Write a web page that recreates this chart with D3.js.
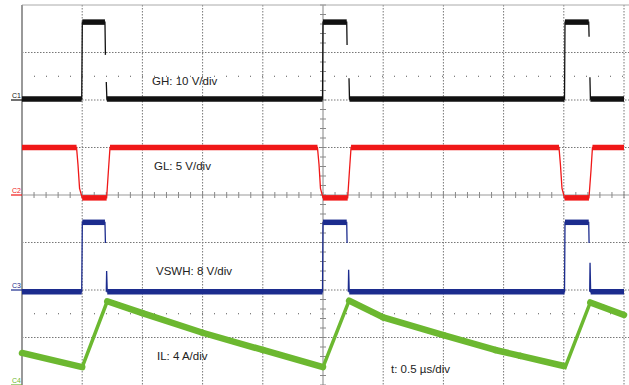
<!DOCTYPE html>
<html>
<head>
<meta charset="utf-8">
<script src="https://cdn.jsdelivr.net/npm/d3@7"></script>
<style>
  body { margin: 0; background: #fff; }
  text { font-family: "Liberation Sans", Arial, sans-serif; }
</style>
</head>
<body>
<div id="scope"></div>
<script>
const width = 629;
const height = 385;

// tiempo en µs, valores en V o A (null = hueco en la traza)
const ghData = [
  [-2.5, 0.2], [-2.004, 0.2], [-1.999, 16.4], [-1.811, 16.4], [-1.807, 9.5], null, [-1.800, 3.8], [-1.795, 0.2],
  [-0.004, 0.2], [0.0, 16.4], [0.197, 16.4], [0.200, 11.6], null, [0.216, 4.6], [0.220, 0.2],
  [2.006, 0.2], [2.010, 16.4], [2.207, 16.4], [2.210, 13.3], null, [2.217, 4.8], [2.221, 0.2], [2.5, 0.2]
];
const glData = [
  [-2.5, 5.0], [-2.047, 5.0], [-2.035, 3.2], [-2.022, 0.7], [-2.0, -0.3], [-1.797, -0.3], [-1.782, 2.6], [-1.769, 5.0],
  [-0.046, 5.0], [-0.033, 3.2], [-0.021, 0.7], [0.0, -0.3], [0.205, -0.3], [0.220, 2.6], [0.233, 5.0],
  [1.960, 5.0], [1.972, 3.2], [1.985, 0.7], [2.006, -0.3], [2.209, -0.3], [2.226, 2.6], [2.238, 5.0], [2.5, 5.0]
];
const vswData = [
  [-2.5, -0.3], [-2.004, -0.3], [-1.999, 11.4], [-1.811, 11.4], [-1.807, 7.9], null, [-1.800, -0.3], [-1.797, 3.2], [-1.792, -0.3],
  [-0.004, -0.3], [0.0, 11.4], [0.197, 11.4], [0.200, 7.9], null, [0.210, -0.3], [0.213, 3.4], [0.218, -0.3],
  [2.006, -0.3], [2.010, 11.4], [2.207, 11.4], [2.210, 7.9], null, [2.215, -0.3], [2.218, 4.6], [2.223, -0.3], [2.5, -0.3]
];
const ilData = [
  [-2.5, 2.7], [-2.0, 1.5], [-1.792, 7.05], [-1.5, 6.05], [-1.0, 4.4], [-0.5, 2.95],
  [0.0, 1.5], [0.217, 7.1], [0.5, 5.7], [1.0, 4.2], [1.43, 2.95], [1.64, 2.45],
  [2.0, 1.6], [2.012, 1.5], [2.22, 6.95], [2.5, 5.9]
];

const channelNames = ["C1", "C2", "C3", "C4"];
const channelScales = [10, 5, 8, 4];      // unidades por división
const channelOffsets = [2, 0, -2, -4];    // posición del cero en divisiones
const channelLabels = ["GH: 10 V/div", "GL: 5 V/div", "VSWH: 8 V/div", "IL: 4 A/div"];
const timeLabel = "t: 0.5 µs/div";

const colores = ["#111111", "#f01818", "#1c2c8e", "#6cb830"];

const svg = d3.select("#scope")
  .append("svg")
  .attr("width", width)
  .attr("height", height);

svg.append("rect")
  .attr("width", width)
  .attr("height", height)
  .attr("fill", "#fff");

const x = d3.scaleLinear().domain([-2.5, 2.5]).range([22, 624]);
const yDiv = d3.scaleLinear().domain([-4, 4]).range([385, 5]);

// === RETÍCULA ===
const grid = svg.append("g").attr("class", "reticula");

d3.range(-4, 6).filter(d => d !== 0 && d !== -5).forEach(d => {
  grid.append("line")
    .attr("x1", x(d * 0.5)).attr("x2", x(d * 0.5))
    .attr("y1", 5).attr("y2", height)
    .attr("stroke", "#777").attr("stroke-width", 1)
    .attr("stroke-dasharray", "1.5,1.5");
});
[-3, -2, -1, 1, 2, 3].forEach(d => {
  grid.append("line")
    .attr("x1", 22).attr("x2", width)
    .attr("y1", yDiv(d)).attr("y2", yDiv(d))
    .attr("stroke", "#777").attr("stroke-width", 1)
    .attr("stroke-dasharray", "1.5,1.5");
});
// líneas punteadas espaciadas
[2.5, -2.5].forEach(d => {
  grid.append("line")
    .attr("x1", 22).attr("x2", width)
    .attr("y1", yDiv(d)).attr("y2", yDiv(d))
    .attr("stroke", "#555").attr("stroke-width", 1)
    .attr("stroke-dasharray", "1,11");
});

// ejes centrales con marcas
grid.append("line")
  .attr("x1", x(0)).attr("x2", x(0)).attr("y1", 5).attr("y2", height)
  .attr("stroke", "#999").attr("stroke-width", 1.2);
grid.append("line")
  .attr("x1", 22).attr("x2", width).attr("y1", yDiv(0)).attr("y2", yDiv(0))
  .attr("stroke", "#999").attr("stroke-width", 1.2);
d3.range(-4, 4.01, 0.2).forEach(d => {
  grid.append("line")
    .attr("x1", x(0) - 3).attr("x2", x(0) + 3)
    .attr("y1", yDiv(d)).attr("y2", yDiv(d))
    .attr("stroke", "#888").attr("stroke-width", 1);
});
d3.range(-2.5, 2.51, 0.1).forEach(t => {
  grid.append("line")
    .attr("x1", x(t)).attr("x2", x(t))
    .attr("y1", yDiv(0) - 3).attr("y2", yDiv(0) + 3)
    .attr("stroke", "#888").attr("stroke-width", 1);
});

// bordes
grid.append("line")
  .attr("x1", 22).attr("x2", width).attr("y1", 5).attr("y2", 5)
  .attr("stroke", "#aaa").attr("stroke-width", 1);
grid.append("line")
  .attr("x1", 22).attr("x2", 22).attr("y1", 5).attr("y2", height)
  .attr("stroke", "#999").attr("stroke-width", 2);

// === TRAZAS ===
const datos = [ghData, glData, vswData, ilData];
const orden = [3, 2, 1, 0];
const trazas = svg.append("g").attr("class", "trazas");

orden.forEach(i => {
  const toY = v => yDiv(v / channelScales[i] + channelOffsets[i]);
  const linea = d3.line()
    .defined(d => d !== null)
    .x(d => x(d[0]))
    .y(d => toY(d[1]));

  trazas.append("path")
    .attr("d", linea(datos[i]))
    .attr("fill", "none")
    .attr("stroke", colores[i])
    .attr("stroke-width", i === 3 ? 3.5 : 1.3);

  // tramos lentos: banda de ruido más gruesa (la rampa de subida de IL queda fina)
  const tramos = [];
  for (let k = 1; k < datos[i].length; k++) {
    const a = datos[i][k - 1], b = datos[i][k];
    if (!a || !b || b[0] - a[0] <= 0.03) continue;
    if (i === 3 && b[1] > a[1]) continue;
    tramos.push([a, b]);
  }
  trazas.selectAll(null)
    .data(tramos)
    .enter().append("line")
    .attr("x1", d => x(d[0][0])).attr("y1", d => toY(d[0][1]))
    .attr("x2", d => x(d[1][0])).attr("y2", d => toY(d[1][1]))
    .attr("stroke", colores[i])
    .attr("stroke-linecap", i === 3 ? "round" : "butt")
    .attr("stroke-width", i === 3 ? 6.5 : 5.5);
});

// === MARCADORES DE CANAL ===
channelNames.forEach((n, i) => {
  const y0 = yDiv(channelOffsets[i]);
  svg.append("line")
    .attr("x1", 11).attr("x2", 22).attr("y1", y0).attr("y2", y0)
    .attr("stroke", colores[i]).attr("stroke-width", 1.2);
  svg.append("text")
    .attr("x", 12).attr("y", Math.min(y0 - 2, 383))
    .attr("font-size", 7)
    .attr("fill", colores[i])
    .text(n);
});

// === ETIQUETAS ===
const posEtiquetas = [[152, 85], [154, 170], [156, 275], [157, 360]];
channelLabels.forEach((t, i) => {
  svg.append("text")
    .attr("x", posEtiquetas[i][0]).attr("y", posEtiquetas[i][1])
    .attr("font-size", 11.5)
    .attr("fill", "#222")
    .text(t);
});
svg.append("text")
  .attr("x", 391).attr("y", 373)
  .attr("font-size", 11.5)
  .attr("fill", "#222")
  .text(timeLabel);
</script>
</body>
</html>
